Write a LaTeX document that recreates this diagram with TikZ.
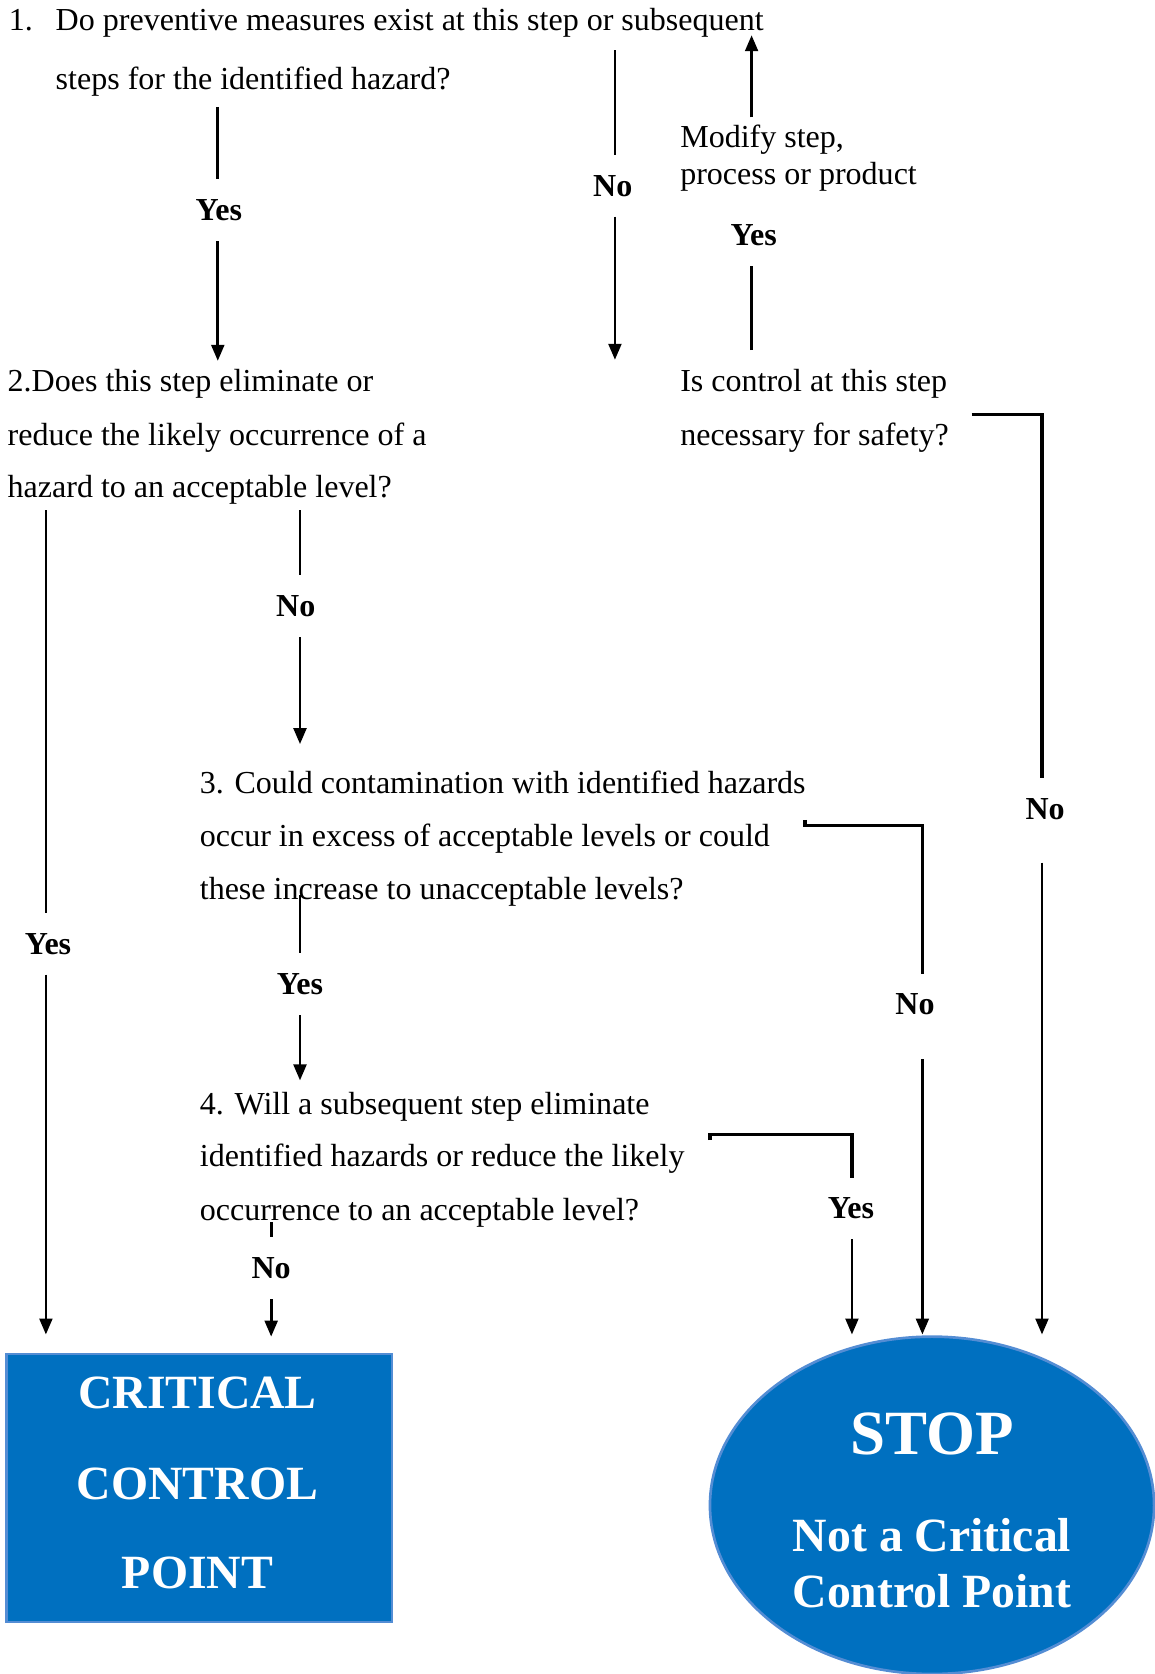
\documentclass[tikz,border=0pt]{standalone}
\usepackage{fontspec}
\setmainfont{Liberation Serif}
\usetikzlibrary{arrows.meta,shapes.geometric}
\definecolor{boxblue}{RGB}{0,112,192}
\definecolor{edgeblue}{RGB}{84,141,212}
\begin{document}
\begin{tikzpicture}[x=1pt,y=-1pt,
  qtext/.style={anchor=base west, inner sep=0pt, font=\fontsize{30}{36}\selectfont},
  lbl/.style={inner sep=0pt, outer ysep=19pt, font=\fontsize{30}{35}\selectfont\bfseries},
  link/.style={line width=2.6pt},
  arr/.style={line width=2.6pt, -{Triangle[width=12pt,length=15pt]}},
  corner/.style={line width=2.9pt},
  big/.style={inner sep=0pt, text=white, font=\fontsize{44.7}{50}\selectfont\bfseries},
  huge/.style={inner sep=0pt, text=white, font=\fontsize{59}{66}\selectfont\bfseries}]
\useasboundingbox (0,0) rectangle (1081,1568);

% question texts
\node[qtext] (q1n) at (8,29) {1.};
\node[qtext] (q1a) at (52,29) {Do preventive measures exist at this step or subsequent};
\node[qtext] (q1b) at (52,84) {steps for the identified hazard?};
\node[qtext] (q2a) at (7,367) {2.Does this step eliminate or};
\node[qtext] (q2b) at (7,417) {reduce the likely occurrence of a};
\node[qtext] (q2c) at (7,466) {hazard to an acceptable level?};
\node[qtext] (mod1) at (637,138) {Modify step,};
\node[qtext] (mod2) at (637,173) {process or product};
\node[qtext] (isc1) at (637,367) {Is control at this step};
\node[qtext] (isc2) at (637,417) {necessary for safety?};
\node[qtext] (q3a) at (187,743) {3. Could contamination with identified hazards};
\node[qtext] (q3b) at (187,793) {occur in excess of acceptable levels or could};
\node[qtext] (q3c) at (187,843) {these increase to unacceptable levels?};
\node[qtext] (q4a) at (187,1044) {4. Will a subsequent step eliminate};
\node[qtext] (q4b) at (187,1093) {identified hazards or reduce the likely};
\node[qtext] (q4c) at (187,1143) {occurrence to an acceptable level?};

% labels
\node[lbl] (yes1) at (205,197) {Yes};
\node[lbl] (no1) at (574,174) {No};
\node[lbl] (yes2) at (706,220) {Yes};
\node[lbl] (no2) at (979,758) {No};
\node[lbl] (yesl) at (45,884) {Yes};
\node[lbl] (noq2) at (277,568) {No};
\node[lbl] (noq3) at (857,941) {No};
\node[lbl] (yesq3) at (281,922) {Yes};
\node[lbl] (yesq4) at (797,1132) {Yes};
\node[lbl] (noq4) at (254,1188) {No};

% end nodes
\node[draw=edgeblue, line width=2.5pt, fill=boxblue, minimum width=361pt, minimum height=251pt, anchor=north west, inner sep=0pt] (ccp) at (5,1267) {};
\node[big] (ccpa) at (185,1305) {CRITICAL};
\node[big] (ccpb) at (185,1390) {CONTROL};
\node[big] (ccpc) at (185,1473) {POINT};
\node[ellipse, draw=edgeblue, line width=2.5pt, fill=boxblue, minimum width=416pt, minimum height=316pt, inner sep=0pt] (stop) at (873,1410) {};
\node[huge] (stopa) at (873,1343) {STOP};
\node[big] (stopb) at (873,1438) {Not a Critical};
\node[big] (stopc) at (873,1490) {Control Point};

% coordinates of free ends
\coordinate (c1top) at (204,100);
\coordinate (c1bot) at (204,338);
\coordinate (n1top) at (576,47);
\coordinate (n1bot) at (576,337);
\coordinate (m1top) at (704,33);
\coordinate (m1bot) at (704,110);
\coordinate (y2bot) at (704,328);
\coordinate (r1) at (910,388);
\coordinate (r2) at (976,388);
\coordinate (r3) at (976,808);
\coordinate (r4) at (976,1250);
\coordinate (l1) at (43,478);
\coordinate (l2) at (43,1250);
\coordinate (m2top) at (281,478);
\coordinate (m2bot) at (281,697);
\coordinate (s1) at (754,768);
\coordinate (s2) at (754,773);
\coordinate (s3) at (864,773);
\coordinate (s4) at (864,992);
\coordinate (s5) at (864,1250);
\coordinate (m3top) at (281,838);
\coordinate (m3bot) at (281,1012);
\coordinate (t1) at (665,1068);
\coordinate (t2) at (665,1063);
\coordinate (t3) at (798,1063);
\coordinate (t4) at (798,1250);
\coordinate (m4top) at (254,1145);
\coordinate (m4bot) at (254,1252);

% connectors
\draw[link] (c1top) -- (yes1.north -| c1top);
\draw[arr] (yes1.south -| c1top) -- (c1bot);
\draw[link] (n1top) -- (no1.north -| n1top);
\draw[arr] (no1.south -| n1top) -- (n1bot);
\draw[arr] (m1bot) -- (m1top);
\draw[link] (y2bot) -- (yes2.south -| y2bot);
\draw[corner] (r1) -- (r2) -- (no2.north -| r2);
\draw[arr] (r3) -- (r4);
\draw[link] (l1) -- (yesl.north -| l1);
\draw[arr] (yesl.south -| l1) -- (l2);
\draw[link] (m2top) -- (noq2.north -| m2top);
\draw[arr] (noq2.south -| m2top) -- (m2bot);
\draw[corner] (s1) -- (s2) -- (s3) -- (noq3.north -| s3);
\draw[arr] (s4) -- (s5);
\draw[link] (m3top) -- (yesq3.north -| m3top);
\draw[arr] (yesq3.south -| m3top) -- (m3bot);
\draw[corner] (t1) -- (t2) -- (t3) -- (yesq4.north -| t3);
\draw[arr] (yesq4.south -| t3) -- (t4);
\draw[link] (m4top) -- (noq4.north -| m4top);
\draw[arr] (noq4.south -| m4top) -- (m4bot);
\end{tikzpicture}
\end{document}
